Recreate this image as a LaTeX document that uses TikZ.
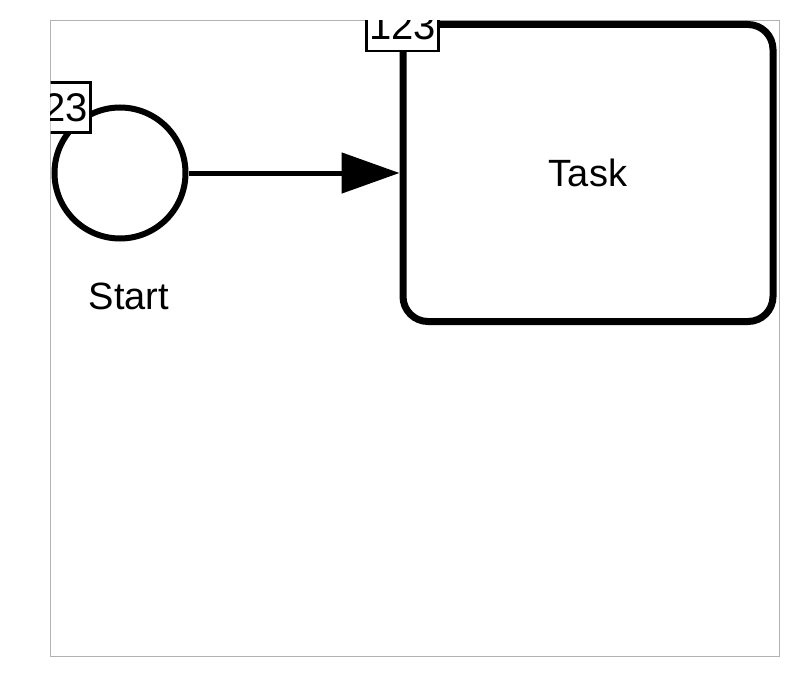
\documentclass[tikz,border=0pt]{standalone}
\usepackage{fontspec}
\setmainfont{Liberation Sans}
\usetikzlibrary{arrows.meta, positioning}
\tikzset{
  event/.style={circle, draw, line width=6pt, minimum size=131pt, inner sep=0pt},
  activity/.style={rectangle, rounded corners=25pt, draw, line width=7pt,
    minimum width=370pt, minimum height=297pt},
  idbox/.style={rectangle, draw, fill=white, line width=2.5pt,
    minimum width=72pt, minimum height=50pt, inner sep=0pt},
  flow/.style={line width=5pt, -{Triangle[length=58pt, width=40pt]}},
}
\newcommand{\bigtext}{\fontsize{38}{44}\selectfont}

\begin{document}
\begin{tikzpicture}[x=1pt, y=-1pt, font=\bigtext]
  \useasboundingbox (0,0) rectangle (800,677);
  \draw[gray!60, line width=1pt] (50.5,20.5) rectangle (779.5,656.5);

  \begin{scope}
    \clip (50.5,20.5) rectangle (779.5,656.5);
    \node[event] (start) at (120,173) {};
    \node (startname) at (129,296) {Start};
    \node[activity] (task) at (588,173) {Task};

    \draw[flow] (start) -- (task);

    % id labels on the top left corners
    \node[idbox, xshift=3pt, yshift=-3pt, font=\fontsize{40}{44}\selectfont] (startid) at (start.west |- start.north) {123};
    \node[idbox, xshift=3pt, yshift=-5pt, font=\fontsize{40}{44}\selectfont] (taskid) at (task.north west) {123};
  \end{scope}
\end{tikzpicture}
\end{document}
